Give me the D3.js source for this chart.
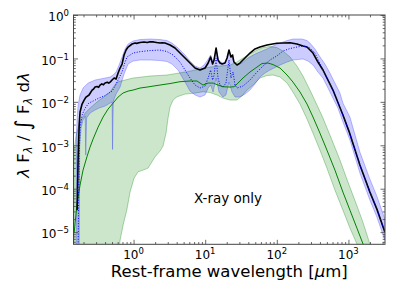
<!DOCTYPE html>
<html><head><meta charset="utf-8">
<script src="https://cdn.jsdelivr.net/npm/d3@7"></script>
<style>body{margin:0;background:#fff}svg{display:block}</style>
</head><body><svg id="c" width="394" height="296"></svg>
<script>
// ---- data (wavelength in micron, normalised lambda F_lambda) ----
const totalLam = [0.163,0.168,0.174,0.179,0.191,0.204,0.217,0.239,0.25,0.264,0.275,0.290,0.31,0.325,0.341,0.36,0.38,0.400,0.43,0.45,0.470,0.485,0.501,0.535,0.570,0.608,0.648,0.691,0.737,0.786,0.838,0.953,1.05,1.1,1.23,1.4,1.55,1.70,1.9,2.1,2.34,2.5,2.75,3.23,3.79,4.45,5.23,6.14,7.21,8.47,9.95,11.0,11.9,12.7,13.3,14.2,15.1,16.1,17.2,18.9,20.2,21.5,22.9,24.1,25.2,27.8,30.6,34.8,42.2,49.6,58.2,72.9,100,153,191,232,264,320,375,441,608,838,1016,1446,1995,2496,3228];
const totalFlux = [3.21e-5,4.56e-4,2.92e-3,5.82e-3,8.9e-3,0.0110,0.0129,0.0144,0.0162,0.0187,0.0195,0.0219,0.0225,0.0215,0.0244,0.0260,0.0247,0.0271,0.0282,0.0270,0.0286,0.0300,0.0318,0.0354,0.0335,0.0461,0.0601,0.0743,0.120,0.156,0.183,0.215,0.226,0.222,0.232,0.238,0.233,0.243,0.240,0.232,0.226,0.230,0.226,0.204,0.174,0.133,0.102,0.0783,0.0601,0.0541,0.0601,0.0783,0.108,0.0743,0.0919,0.174,0.0919,0.0783,0.0743,0.0783,0.102,0.156,0.108,0.120,0.0826,0.0705,0.0783,0.0969,0.133,0.165,0.183,0.204,0.223,0.230,0.215,0.193,0.183,0.133,0.0826,0.0541,0.0187,0.00497,0.00212,0.000350,8.35e-5,3.39e-5,1.00e-5];

const blueMedLam = [0.168,0.171,0.174,0.179,0.191,0.211,0.237,0.272,0.327,0.388,0.451,0.501,0.552,0.608,0.691,0.761,0.812,0.984,1.23,1.70,2.34,2.93,3.56,4.45,5.23,6.14,7.21,8.47,9.95,11.0,11.9,12.7,13.3,14.2,15.1,16.1,17.7,19.5,21.5,22.9,24.5,26.1,27.8,33.7,42.2,52.9,64.1,80.3,100,122,153,191,232,290,341,441,608,838,1016,1446,1995,2496,3228];
const blueMedFlux = [3.85e-6,5.46e-5,4.56e-4,0.00249,0.00497,0.00720,0.00938,0.0104,0.0122,0.0136,0.0160,0.0177,0.0231,0.0318,0.0494,0.0826,0.108,0.133,0.143,0.152,0.156,0.144,0.120,0.0826,0.0541,0.0354,0.0244,0.0208,0.0231,0.0354,0.0541,0.0318,0.0415,0.102,0.0354,0.0244,0.0219,0.0271,0.0919,0.0354,0.0486,0.0244,0.0208,0.0231,0.0318,0.0486,0.0668,0.0919,0.114,0.148,0.169,0.183,0.193,0.174,0.133,0.0541,0.0187,0.00497,0.00212,0.000350,8.35e-5,3.39e-5,1.00e-5];

const blueHiLam = [0.158,0.163,0.168,0.179,0.197,0.232,0.290,0.341,0.400,0.470,0.518,0.570,0.628,0.691,0.761,0.838,0.984,1.23,1.70,2.34,2.93,3.44,4.18,5.23,6.14,7.21,8.47,9.63,10.6,11.9,12.9,14.2,15.6,17.7,19.5,21.5,23.7,25.2,27.8,32.6,39.6,49.6,62.1,72.9,88.4,111,139,168,225,264,290,341,400,470,552,648,761,838,1050,1446,1995,2496,3228];
const blueHiFlux = [0.00132,0.00424,0.00844,0.0144,0.0208,0.0271,0.0318,0.0335,0.0354,0.0373,0.0415,0.0486,0.0705,0.108,0.165,0.215,0.252,0.272,0.280,0.272,0.258,0.226,0.174,0.120,0.0871,0.0668,0.0601,0.0705,0.0871,0.120,0.0826,0.156,0.0871,0.0783,0.0826,0.140,0.108,0.0826,0.0705,0.0783,0.102,0.126,0.148,0.165,0.193,0.226,0.258,0.280,0.280,0.258,0.226,0.165,0.109,0.0743,0.0461,0.0271,0.0160,0.00938,0.00447,0.000697,0.000166,6.75e-5,2.0e-5];

const blueLoLam = [0.158,0.174,0.177,0.185,0.197,0.211,0.215,0.221,0.247,0.290,0.330,0.400,0.470,0.501,0.509,0.521,0.570,0.648,0.737,0.838,0.984,1.23,1.70,2.34,2.93,3.44,4.18,5.23,6.14,7.21,8.47,9.95,11.0,11.9,12.9,14.2,15.6,17.7,19.5,21.5,23.7,26.1,30.6,36.0,42.2,49.6,58.2,68.4,80.3,111,139,168,232,272,320,375,441,518,608,713,838,1050,1446,1995,2496,3228];
const blueLoFlux = [3.85e-6,3.85e-6,0.00101,0.00249,0.00381,0.00471,0.000594,0.00424,0.00552,0.00648,0.00720,0.00800,0.00938,0.00989,0.00080,0.0104,0.0151,0.0219,0.0437,0.0743,0.0871,0.0919,0.0919,0.0895,0.0849,0.0743,0.0541,0.0286,0.0177,0.0144,0.0129,0.0144,0.0208,0.0244,0.0168,0.0354,0.0168,0.0129,0.0144,0.0286,0.0168,0.0129,0.0129,0.0151,0.0187,0.0257,0.0373,0.0461,0.0541,0.0705,0.0826,0.0919,0.0969,0.0871,0.0705,0.0486,0.0354,0.0208,0.0122,0.00720,0.00343,0.00132,0.000229,5.46e-5,2.22e-5,6.55e-6];

const greenMedLam = [0.148,0.153,0.163,0.179,0.197,0.225,0.247,0.272,0.320,0.375,0.441,0.518,0.608,0.714,0.838,0.984,1.23,1.54,2.34,3.23,4.45,6.14,7.69,9.33,11.0,12.9,15.1,17.7,22.2,25.2,27.8,33.7,42.2,52.9,62.1,75.3,88.4,111,139,168,211,264,320,400,501,648,838,1050,1313,1644];
const greenMedFlux = [9.49e-6,1.70e-5,4.66e-5,0.000121,0.000268,0.000564,0.000910,0.00139,0.00262,0.00447,0.00683,0.00938,0.0129,0.0160,0.0177,0.0187,0.0208,0.0219,0.0244,0.0264,0.0291,0.0302,0.0302,0.0244,0.0271,0.0271,0.0244,0.0223,0.0219,0.0223,0.0257,0.0354,0.0486,0.0633,0.0763,0.0783,0.0723,0.0601,0.0415,0.0286,0.0168,0.00890,0.00447,0.00191,0.000775,0.000268,8.35e-5,3.21e-5,1.24e-5,4.76e-6];

const greenHiLam = [0.148,0.158,0.179,0.211,0.247,0.320,0.400,0.470,0.535,0.589,0.761,0.984,1.70,2.93,5.58,8.47,11.7,16.1,22.2,27.8,33.7,42.2,52.9,64.1,80.3,100,122,153,191,232,290,364,441,589,761,985,1272,1593,1995,2415];
const greenHiFlux = [0.000775,0.00172,0.00343,0.00552,0.00720,0.0104,0.0136,0.0168,0.0231,0.0286,0.0318,0.0354,0.0393,0.0415,0.0494,0.0570,0.0633,0.0668,0.0705,0.0826,0.102,0.126,0.156,0.178,0.188,0.178,0.148,0.108,0.0668,0.0393,0.0187,0.00844,0.00424,0.00132,0.000456,0.000142,4.66e-5,1.70e-5,5.29e-6,2.26e-6];

const greenLoLam = [0.148,0.628,0.648,0.714,0.804,0.893,1.016,1.156,1.357,1.593,2.0,2.34,2.58,2.84,3.03,3.23,3.56,4.05,5.23,6.76,9.33,11.7,14.6,17.7,22.2,27.8,33.7,38.3,46.5,58.2,72.9,88.4,111,139,168,211,264,320,400,501,648,838,1050,1356];
const greenLoFlux = [3.85e-6,3.85e-6,6.55e-6,1.45e-5,3.21e-5,8.35e-5,0.000175,0.000245,0.000268,0.000298,0.000544,0.000735,0.000959,0.00191,0.00424,0.00759,0.0110,0.0131,0.0151,0.0157,0.0171,0.0164,0.0144,0.0122,0.0110,0.0110,0.0144,0.0187,0.0244,0.0354,0.0404,0.0415,0.0373,0.0271,0.0168,0.00890,0.00402,0.00191,0.000775,0.000298,9.29e-5,3.21e-5,1.24e-5,4.76e-6];

const xTickVals = [1,10,100,1000];
const yTickVals = [1,0.1,0.01,0.001,1e-4,1e-5];
const xTickExp = ["0","1","2","3"];
const yTickExp = ["0","\u22121","\u22122","\u22123","\u22124","\u22125"];

// ---- layout ----
const L=73.5, R=385, T=15, B=244.3;
const svg=d3.select("#c");
const x=d3.scaleLog().domain([0.145,3240]).range([L,R]);
const y=d3.scaleLog().domain([5.25e-6,1]).range([B,T]);
const FONT="DejaVu Sans, sans-serif";

svg.append("defs").append("clipPath").attr("id","clip")
  .append("rect").attr("x",L).attr("y",T).attr("width",R-L).attr("height",B-T);
const plot=svg.append("g").attr("clip-path","url(#clip)");

const pts=(lam,f)=>lam.map((l,i)=>[l,f[i]]);
const line=d3.line().x(d=>x(d[0])).y(d=>y(d[1]));
function band(hiL,hiF,loL,loF,fill,stroke){
  const p=pts(hiL,hiF).concat(pts(loL,loF).reverse());
  plot.append("path").attr("d",line(p)+"Z").attr("fill",fill)
    .attr("stroke",stroke).attr("stroke-width",0.7);
}
band(greenHiLam,greenHiFlux,greenLoLam,greenLoFlux,"rgba(0,128,0,0.2)","rgba(0,128,0,0.45)");
band(blueHiLam,blueHiFlux,blueLoLam,blueLoFlux,"rgba(0,0,255,0.2)","rgba(0,0,255,0.35)");

plot.append("path").attr("d",line(pts(greenMedLam,greenMedFlux)))
  .attr("fill","none").attr("stroke","#008000").attr("stroke-width",1);
plot.append("path").attr("d",line(pts(totalLam,totalFlux)))
  .attr("fill","none").attr("stroke","#000").attr("stroke-width",1.6).attr("stroke-linejoin","round");
plot.append("path").attr("d",line(pts(blueMedLam,blueMedFlux)))
  .attr("fill","none").attr("stroke","#0000ff").attr("stroke-width",1).attr("stroke-dasharray","1,1.6");

// ---- axes ----
function minors(lo,hi){const a=[];for(let d=-6;d<=4;d++)for(let k=2;k<=9;k++){const v=k*Math.pow(10,d);if(v>lo&&v<hi)a.push(v);}return a;}
const xMin=minors(0.145,3240), yMin=minors(5.25e-6,1);
const axCol="#444";
function ax(gen,scale,vals,size,tr){
  const g=svg.append("g").attr("transform",tr)
    .call(gen(scale).tickValues(vals).tickSizeInner(-size).tickSizeOuter(0).tickFormat(""));
  g.select(".domain").remove();
  g.selectAll("line").attr("stroke",axCol).attr("stroke-width",0.8);
}
[[4.5,xTickVals],[2.3,xMin]].forEach(([s,v])=>{
  ax(d3.axisBottom,x,v,s,`translate(0,${B})`);
  ax(d3.axisTop,x,v,s,`translate(0,${T})`);
});
[[4.5,yTickVals],[2.3,yMin]].forEach(([s,v])=>{
  ax(d3.axisLeft,y,v,s,`translate(${L},0)`);
  ax(d3.axisRight,y,v,s,`translate(${R},0)`);
});
svg.append("rect").attr("x",L).attr("y",T).attr("width",R-L).attr("height",B-T)
  .attr("fill","none").attr("stroke",axCol).attr("stroke-width",1);

// tick labels
xTickVals.forEach((v,i)=>{
  const t=svg.append("text").attr("x",x(v)).attr("y",259.3).attr("text-anchor","middle")
    .attr("font-family",FONT).attr("font-size",12).attr("fill","#000");
  t.append("tspan").text("10");
  t.append("tspan").attr("dy",-5).attr("font-size",8.5).text(xTickExp[i]);
});
yTickVals.forEach((v,i)=>{
  const t=svg.append("text").attr("x",69).attr("y",y(v)+6.3).attr("text-anchor","end")
    .attr("font-family",FONT).attr("font-size",12).attr("fill","#000");
  t.append("tspan").text("10");
  t.append("tspan").attr("dy",-5).attr("font-size",8.5).text(yTickExp[i]);
});

// axis labels
const xl=svg.append("text").attr("x",(L+R)/2).attr("y",277).attr("text-anchor","middle")
  .attr("font-family",FONT).attr("font-size",16.5).attr("fill","#000");
xl.append("tspan").text("Rest-frame wavelength [");
xl.append("tspan").attr("font-style","italic").text("\u03bc");
xl.append("tspan").text("m]");

const yl=svg.append("text").attr("transform","translate(29,125) rotate(-90)")
  .attr("text-anchor","middle").attr("font-family",FONT).attr("font-size",16.5).attr("fill","#000");
yl.append("tspan").attr("font-style","italic").text("\u03bb");
yl.append("tspan").text(" F");
yl.append("tspan").attr("font-style","italic").attr("font-size",11.5).attr("dy",3).text("\u03bb");
yl.append("tspan").attr("dy",-3).text(" / ");
yl.append("tspan").attr("font-size",21).attr("dy",1).text("\u222b");
yl.append("tspan").attr("dy",-1).text(" F");
yl.append("tspan").attr("font-style","italic").attr("font-size",11.5).attr("dy",3).text("\u03bb");
yl.append("tspan").attr("dy",-3).text(" d");
yl.append("tspan").attr("font-style","italic").text("\u03bb");

svg.append("text").attr("x",194).attr("y",203).attr("font-family",FONT)
  .attr("font-size",13.5).attr("fill","#000").text("X-ray only");
</script></body></html>
